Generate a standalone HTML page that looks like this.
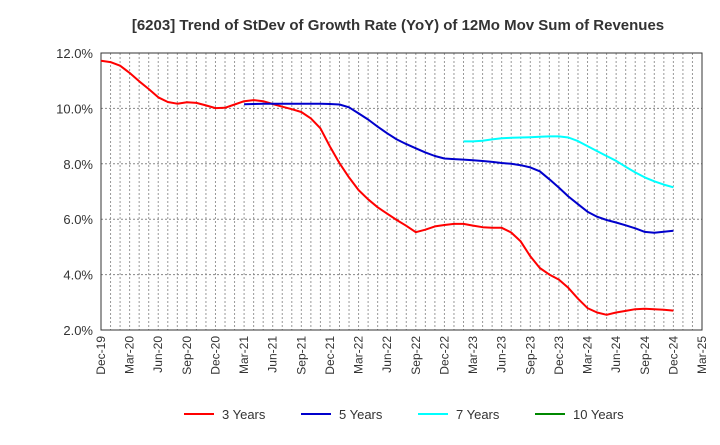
<!DOCTYPE html>
<html><head><meta charset="utf-8"><style>
body{margin:0;background:#fff;font-family:"Liberation Sans",sans-serif}
svg text{font-family:"Liberation Sans",sans-serif}
</style></head><body>
<svg id="chart" width="720" height="440">
<text x="398" y="30" text-anchor="middle" font-size="15" font-weight="bold" fill="#333">[6203]  Trend of StDev of Growth Rate (YoY) of 12Mo Mov Sum of Revenues</text>
<g id="grid"></g><g id="axes"></g><g id="series"></g><g id="legend"></g>
</svg>
<script>
const xLabels=["Dec-19","Mar-20","Jun-20","Sep-20","Dec-20","Mar-21","Jun-21","Sep-21","Dec-21","Mar-22","Jun-22","Sep-22","Dec-22","Mar-23","Jun-23","Sep-23","Dec-23","Mar-24","Jun-24","Sep-24","Dec-24","Mar-25"];
const yTicks=[2,4,6,8,10,12];
const s3=[11.72,11.67,11.54,11.28,10.98,10.7,10.4,10.23,10.17,10.22,10.2,10.11,10.01,10.02,10.14,10.26,10.3,10.26,10.16,10.06,9.97,9.87,9.64,9.28,8.62,8.02,7.51,7.05,6.72,6.43,6.2,5.97,5.76,5.53,5.62,5.74,5.79,5.83,5.83,5.77,5.71,5.69,5.69,5.52,5.2,4.66,4.24,4.0,3.82,3.52,3.13,2.79,2.63,2.55,2.63,2.69,2.75,2.77,2.75,2.73,2.7];
const s5start=15;
const s5=[10.15,10.16,10.17,10.17,10.17,10.17,10.17,10.17,10.17,10.16,10.14,10.04,9.82,9.6,9.34,9.1,8.88,8.71,8.56,8.41,8.28,8.19,8.17,8.15,8.13,8.1,8.07,8.03,8.0,7.95,7.87,7.73,7.44,7.14,6.82,6.54,6.27,6.09,5.97,5.88,5.78,5.67,5.54,5.51,5.55,5.58];
const s7start=38;
const s7=[8.81,8.81,8.83,8.88,8.92,8.94,8.95,8.96,8.98,8.99,8.99,8.95,8.82,8.64,8.46,8.28,8.11,7.89,7.69,7.51,7.37,7.25,7.15];
const s10=[];
const L=101,R=702,T=53,B=330,N=63;
const xs=i=>L+(R-L)*i/N, ys=v=>B-(v-2)/10*(B-T);
const ns="http://www.w3.org/2000/svg";
function mk(t,a,p){const e=document.createElementNS(ns,t);for(const k in a)e.setAttribute(k,a[k]);p.appendChild(e);return e;}
const g=document.getElementById('grid'),ax=document.getElementById('axes'),se=document.getElementById('series'),lg=document.getElementById('legend');
for(let i=1;i<N;i++){const l=mk('line',{x1:xs(i),x2:xs(i),y1:T,y2:B,stroke:'#999','stroke-dasharray':'2,2','stroke-width':1},g);

}
yTicks.forEach(v=>{if(v>2&&v<12){const l=mk('line',{x1:L,x2:R,y1:ys(v),y2:ys(v),stroke:'#888','stroke-dasharray':'2,2'},g);

}
const t=mk('text',{x:93,y:ys(v)+5,'text-anchor':'end','font-size':13,fill:'#333'},ax);t.textContent=v.toFixed(1)+'%';

});
const fr=mk('rect',{x:L,y:T,width:R-L,height:B-T,fill:'none',stroke:'#333','stroke-width':1},ax);


xLabels.forEach((s,k)=>{const x=xs(k*3);const t=mk('text',{x:0,y:0,transform:`translate(${x+4},336) rotate(-90)`,'text-anchor':'end','font-size':12,fill:'#333'},ax);t.textContent=s;

});
function line(arr,start,col,name){if(!arr.length)return;const d=arr.map((v,i)=>(i?'L':'M')+xs(start+i).toFixed(1)+','+ys(v).toFixed(1)).join('');
const p=mk('path',{d:d,fill:'none',stroke:col,'stroke-width':2,'stroke-linejoin':'round'},se);

}
line(s3,0,'#f00','series-3-years');line(s5,s5start,'#00c','series-5-years');line(s7,s7start,'#0ff','series-7-years');line(s10,0,'#080','series-10-years');
[['3 Years','#f00',184],['5 Years','#00c',301],['7 Years','#0ff',418],['10 Years','#080',535]].forEach(([n,c,x])=>{
const gg=mk('g',{},lg);


mk('line',{x1:x,x2:x+30,y1:414,y2:414,stroke:c,'stroke-width':2},gg);
const t=mk('text',{x:x+38,y:419,'font-size':13,fill:'#333'},gg);t.textContent=n;});
</script>
</body></html>
